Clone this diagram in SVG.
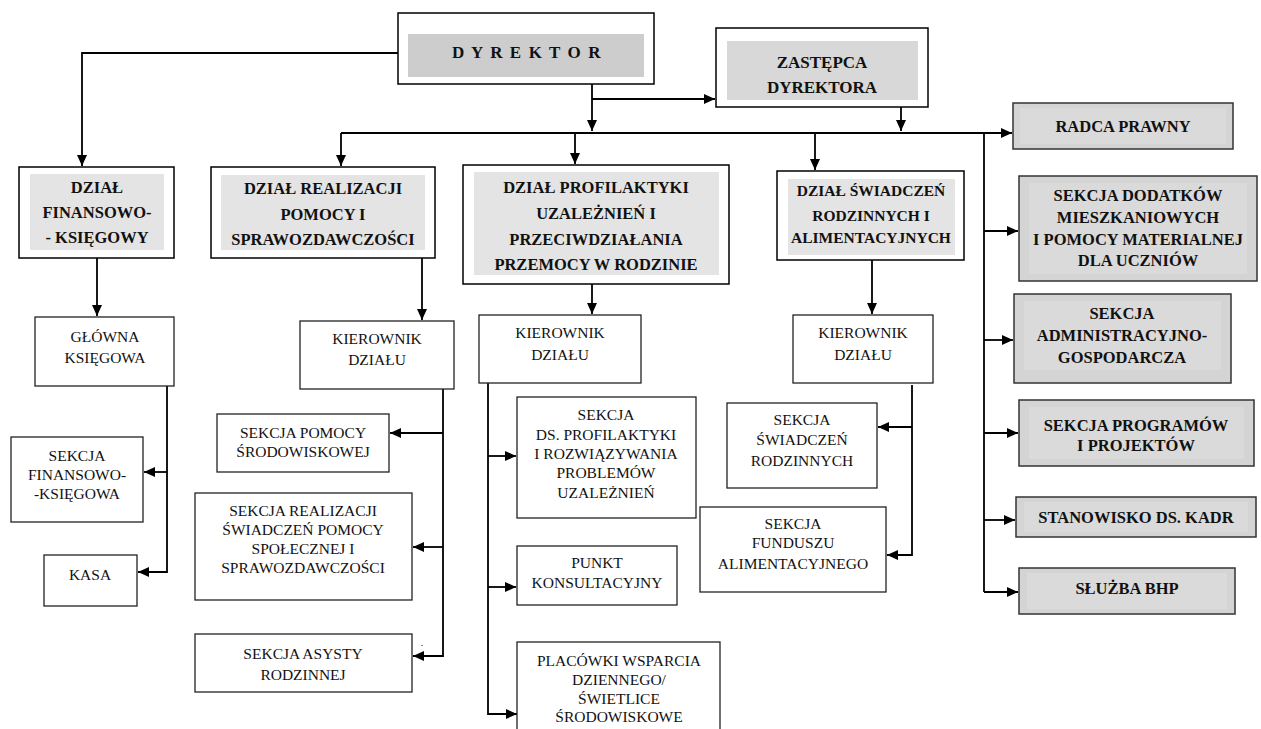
<svg xmlns="http://www.w3.org/2000/svg" width="1261" height="729" viewBox="0 0 1261 729">
<style>
.box{fill:#fff;stroke:#000;stroke-width:1.5}
.sub{fill:#fff;stroke:#222;stroke-width:1.3}
.rbox{fill:#d4d4d4;stroke:#333;stroke-width:1.5}
.rin{fill:#dadada;stroke:none}
.gin{fill:#e4e4e4;stroke:none}
.b{font-family:"Liberation Serif",serif;font-weight:bold;font-size:16.5px;fill:#111;text-anchor:middle}
.bs{font-family:"Liberation Serif",serif;font-weight:bold;font-size:15.5px;fill:#111;text-anchor:middle}
.r{font-family:"Liberation Serif",serif;font-size:15.5px;fill:#111;text-anchor:middle}
.c{fill:none;stroke:#000;stroke-width:1.8}
</style>
<defs>
<marker id="ah" markerUnits="userSpaceOnUse" markerWidth="11" markerHeight="10" refX="11" refY="5" orient="auto">
<path d="M0,0 L11,5 L0,10 z" fill="#000"/>
</marker>
</defs>
<rect width="1261" height="729" fill="#fff"/>

<g id="connectors">
<path class="c" d="M398,53 H82 V166" marker-end="url(#ah)"/>
<path class="c" d="M592,84 V131" marker-end="url(#ah)"/>
<path class="c" d="M592,99 H715" marker-end="url(#ah)"/>
<path class="c" d="M901,107 V131" marker-end="url(#ah)"/>
<path class="c" d="M341,133 H1012" marker-end="url(#ah)"/>
<path class="c" d="M341,133 V166" marker-end="url(#ah)"/>
<path class="c" d="M575,133 V164" marker-end="url(#ah)"/>
<path class="c" d="M815,133 V170" marker-end="url(#ah)"/>
<path class="c" d="M984,133 V592"/>
<path class="c" d="M984,231 H1018" marker-end="url(#ah)"/>
<path class="c" d="M984,340 H1013" marker-end="url(#ah)"/>
<path class="c" d="M984,433 H1018" marker-end="url(#ah)"/>
<path class="c" d="M984,520 H1015" marker-end="url(#ah)"/>
<path class="c" d="M984,592 H1018" marker-end="url(#ah)"/>
<!-- finanse -->
<path class="c" d="M97,258 V316" marker-end="url(#ah)"/>
<path class="c" d="M167,386 V572 H138" marker-end="url(#ah)"/>
<path class="c" d="M167,472 H144" marker-end="url(#ah)"/>
<!-- realizacja -->
<path class="c" d="M422,258 V320" marker-end="url(#ah)"/>
<path class="c" d="M443,388 V656 H413" marker-end="url(#ah)"/>
<path class="c" d="M443,433 H390" marker-end="url(#ah)"/>
<path class="c" d="M443,547 H413" marker-end="url(#ah)"/>
<!-- profilaktyka -->
<path class="c" d="M592,284 V314" marker-end="url(#ah)"/>
<path class="c" d="M488,383 V714 H517" marker-end="url(#ah)"/>
<path class="c" d="M488,456 H516" marker-end="url(#ah)"/>
<path class="c" d="M488,587 H516" marker-end="url(#ah)"/>
<!-- swiadczenia -->
<path class="c" d="M872,260 V314" marker-end="url(#ah)"/>
<path class="c" d="M912,385 V555 H887" marker-end="url(#ah)"/>
<path class="c" d="M912,427 H878" marker-end="url(#ah)"/>
</g>

<g id="dyrektor">
<rect class="box" x="398" y="13" width="256" height="71"/>
<rect x="408" y="34" width="236" height="43" fill="#cdcdcd"/>
<text class="b" x="527" y="58" style="font-size:17px;letter-spacing:1.6px">D Y R E K T O R</text>
</g>

<g id="zastepca">
<rect class="box" x="716" y="28" width="212" height="79"/>
<rect x="727" y="41" width="191" height="59" fill="#d8d8d8"/>
<text class="b" x="822" y="68" style="font-size:17px">ZASTĘPCA</text>
<text class="b" x="822" y="93" style="font-size:17px">DYREKTORA</text>
</g>

<g id="dzial-fin">
<rect class="box" x="19" y="167" width="155" height="91"/>
<rect class="gin" x="30" y="174" width="134" height="76"/>
<text class="b" x="97" y="193">DZIAŁ</text>
<text class="b" x="97" y="218">FINANSOWO-</text>
<text class="b" x="97" y="243">- KSIĘGOWY</text>
</g>

<g id="dzial-real">
<rect class="box" x="211" y="167" width="224" height="91"/>
<rect class="gin" x="221" y="175" width="204" height="75"/>
<text class="b" x="323" y="194">DZIAŁ REALIZACJI</text>
<text class="b" x="323" y="220">POMOCY I</text>
<text class="b" x="323" y="245">SPRAWOZDAWCZOŚCI</text>
</g>

<g id="dzial-prof">
<rect class="box" x="463" y="165" width="266" height="119"/>
<rect class="gin" x="474" y="172" width="245" height="103"/>
<text class="b" x="596" y="193">DZIAŁ PROFILAKTYKI</text>
<text class="b" x="596" y="219">UZALEŻNIEŃ  I</text>
<text class="b" x="596" y="245">PRZECIWDZIAŁANIA</text>
<text class="b" x="596" y="270">PRZEMOCY W RODZINIE</text>
</g>

<g id="dzial-swiad">
<rect class="box" x="777" y="171" width="187" height="89"/>
<rect class="gin" x="788" y="179" width="167" height="76"/>
<text class="bs" x="871" y="196">DZIAŁ ŚWIADCZEŃ</text>
<text class="bs" x="871" y="221">RODZINNYCH  I</text>
<text class="bs" x="871" y="243">ALIMENTACYJNYCH</text>
</g>

<g id="radca">
<rect class="rbox" x="1013" y="103" width="220" height="46"/>
<rect class="rin" x="1020" y="108" width="206" height="36"/>
<text class="b" x="1123" y="132">RADCA PRAWNY</text>
</g>

<g id="sekcja-dodatkow">
<rect class="rbox" x="1019" y="176" width="238" height="105"/>
<rect class="rin" x="1029" y="183" width="218" height="91"/>
<text class="b" x="1138" y="201">SEKCJA DODATKÓW</text>
<text class="b" x="1138" y="223">MIESZKANIOWYCH</text>
<text class="b" x="1138" y="245">I POMOCY MATERIALNEJ</text>
<text class="b" x="1138" y="266">DLA UCZNIÓW</text>
</g>

<g id="sekcja-admin">
<rect class="rbox" x="1014" y="294" width="217" height="89"/>
<rect class="rin" x="1024" y="301" width="197" height="69"/>
<text class="b" x="1122" y="319">SEKCJA</text>
<text class="b" x="1122" y="341">ADMINISTRACYJNO-</text>
<text class="b" x="1122" y="363">GOSPODARCZA</text>
</g>

<g id="sekcja-programow">
<rect class="rbox" x="1019" y="400" width="235" height="66"/>
<rect class="rin" x="1029" y="407" width="215" height="52"/>
<text class="b" x="1136" y="431">SEKCJA PROGRAMÓW</text>
<text class="b" x="1136" y="451">I PROJEKTÓW</text>
</g>

<g id="kadry">
<rect class="rbox" x="1016" y="497" width="240" height="40"/>
<rect class="rin" x="1024" y="502" width="224" height="30"/>
<text class="b" x="1136" y="523">STANOWISKO DS. KADR</text>
</g>

<g id="bhp">
<rect class="rbox" x="1019" y="568" width="216" height="46"/>
<rect class="rin" x="1027" y="573" width="200" height="36"/>
<text class="b" x="1127" y="594">SŁUŻBA BHP</text>
</g>

<g id="glowna-ksiegowa">
<rect class="sub" x="35" y="317" width="139" height="69"/>
<text class="r" x="105" y="342">GŁÓWNA</text>
<text class="r" x="105" y="363">KSIĘGOWA</text>
</g>

<g id="sekcja-fin">
<rect class="sub" x="11" y="437" width="132" height="85"/>
<text class="r" x="77" y="461">SEKCJA</text>
<text class="r" x="77" y="480">FINANSOWO-</text>
<text class="r" x="77" y="499">-KSIĘGOWA</text>
</g>

<g id="kasa">
<rect class="sub" x="44" y="555" width="93" height="51"/>
<text class="r" x="90" y="580">KASA</text>
</g>

<g id="kierownik-real">
<rect class="sub" x="300" y="321" width="154" height="68"/>
<text class="r" x="377" y="344">KIEROWNIK</text>
<text class="r" x="377" y="365">DZIAŁU</text>
</g>

<g id="sekcja-pomocy">
<rect class="sub" x="217" y="414" width="172" height="58"/>
<text class="r" x="303" y="438">SEKCJA POMOCY</text>
<text class="r" x="303" y="457">ŚRODOWISKOWEJ</text>
</g>

<g id="sekcja-realizacji">
<rect class="sub" x="195" y="493" width="217" height="107"/>
<text class="r" x="303" y="516">SEKCJA REALIZACJI</text>
<text class="r" x="303" y="535">ŚWIADCZEŃ POMOCY</text>
<text class="r" x="303" y="554">SPOŁECZNEJ  I</text>
<text class="r" x="303" y="573">SPRAWOZDAWCZOŚCI</text>
</g>

<g id="sekcja-asysty">
<rect class="sub" x="195" y="634" width="217" height="58"/>
<text class="r" x="303" y="659">SEKCJA  ASYSTY</text>
<text class="r" x="303" y="680">RODZINNEJ</text>
<text class="r" x="422" y="646" style="font-size:10px">.</text>
</g>

<g id="kierownik-prof">
<rect class="sub" x="479" y="315" width="162" height="68"/>
<text class="r" x="560" y="338">KIEROWNIK</text>
<text class="r" x="560" y="360">DZIAŁU</text>
</g>

<g id="sekcja-ds-prof">
<rect class="sub" x="517" y="397" width="179" height="121"/>
<text class="r" x="606" y="420">SEKCJA</text>
<text class="r" x="606" y="440">DS. PROFILAKTYKI</text>
<text class="r" x="606" y="459">I ROZWIĄZYWANIA</text>
<text class="r" x="606" y="478">PROBLEMÓW</text>
<text class="r" x="606" y="498">UZALEŻNIEŃ</text>
</g>

<g id="punkt">
<rect class="sub" x="517" y="546" width="160" height="59"/>
<text class="r" x="597" y="568">PUNKT</text>
<text class="r" x="597" y="588">KONSULTACYJNY</text>
</g>

<g id="placowki">
<rect class="sub" x="517" y="642" width="203" height="100"/>
<text class="r" x="619" y="666">PLACÓWKI WSPARCIA</text>
<text class="r" x="619" y="685">DZIENNEGO/</text>
<text class="r" x="619" y="704">ŚWIETLICE</text>
<text class="r" x="619" y="722">ŚRODOWISKOWE</text>
</g>

<g id="kierownik-swiad">
<rect class="sub" x="793" y="315" width="140" height="68"/>
<text class="r" x="863" y="338">KIEROWNIK</text>
<text class="r" x="863" y="360">DZIAŁU</text>
</g>

<g id="sekcja-swiad">
<rect class="sub" x="727" y="403" width="150" height="85"/>
<text class="r" x="802" y="425">SEKCJA</text>
<text class="r" x="802" y="445">ŚWIADCZEŃ</text>
<text class="r" x="802" y="466">RODZINNYCH</text>
</g>

<g id="sekcja-fundusz">
<rect class="sub" x="700" y="507" width="186" height="85"/>
<text class="r" x="793" y="529">SEKCJA</text>
<text class="r" x="793" y="548">FUNDUSZU</text>
<text class="r" x="793" y="569">ALIMENTACYJNEGO</text>
</g>
</svg>
